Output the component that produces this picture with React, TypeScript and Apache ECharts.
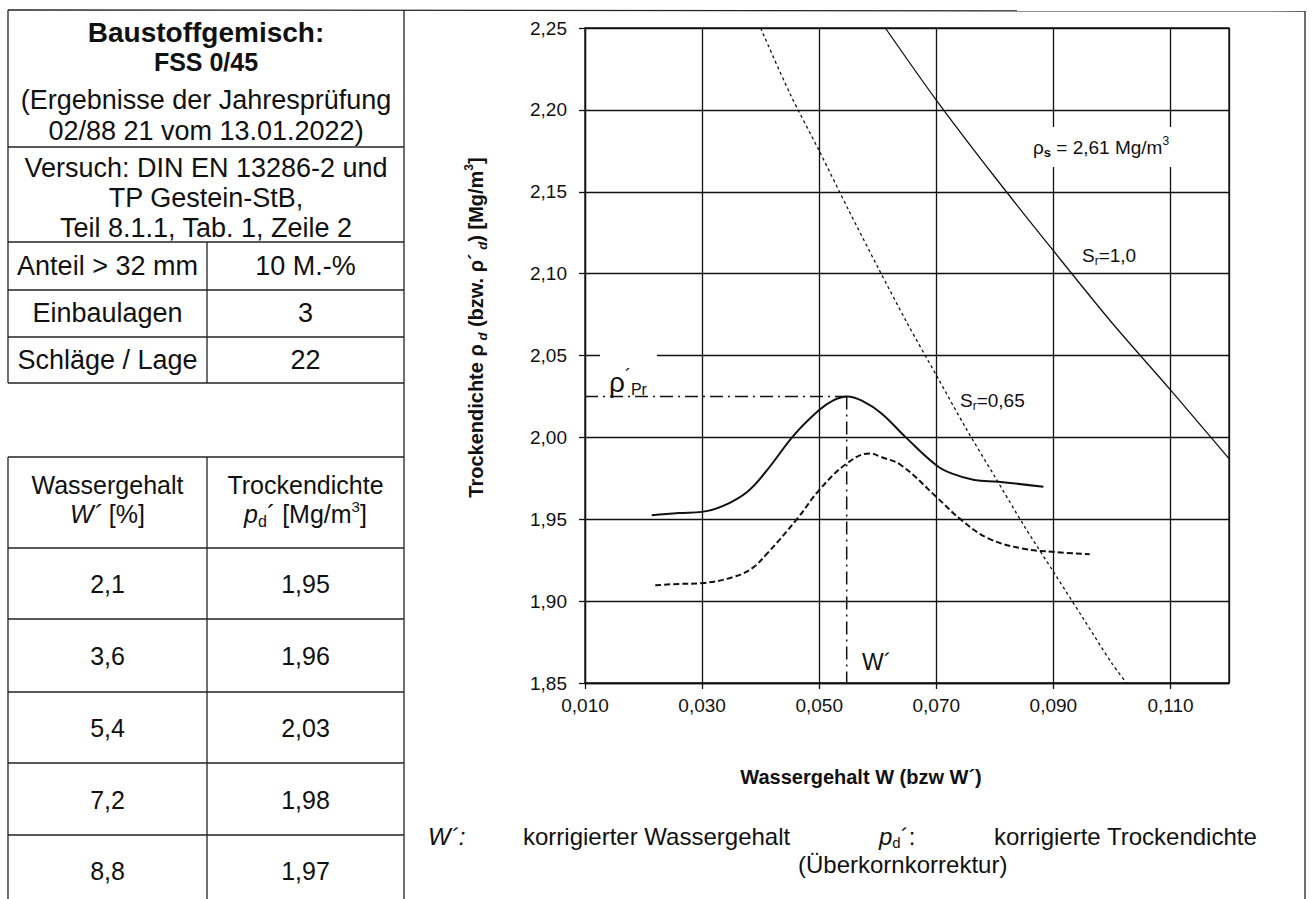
import React, { useEffect, useRef } from 'react';
import * as echarts from 'echarts';

// ---------- chart data ----------
const X_MIN = 0.01;
const X_MAX = 0.12;
const X_STEP = 0.02;
const Y_MIN = 1.85;
const Y_MAX = 2.25;
const Y_STEP = 0.05;

// Proctor curve (measured, solid)
const PROCTOR_CURVE: [number, number][] = [
  [0.0214, 1.9525], [0.026, 1.9538], [0.030, 1.9545], [0.0335, 1.958], [0.0377, 1.9667],
  [0.0411, 1.980], [0.0457, 2.0014], [0.050, 2.0167], [0.0525, 2.0228], [0.0548, 2.025],
  [0.0575, 2.022], [0.0606, 2.0148], [0.0648, 2.0], [0.070, 1.983], [0.0726, 1.978],
  [0.0765, 1.974], [0.0806, 1.9729], [0.0883, 1.9698],
];
// corrected curve (dashed)
const CORRECTED_CURVE: [number, number][] = [
  [0.022, 1.9097], [0.026, 1.9105], [0.030, 1.911], [0.0354, 1.9148], [0.0385, 1.920],
  [0.0411, 1.929], [0.0463, 1.9505], [0.050, 1.9678], [0.0547, 1.984], [0.0586, 1.9902],
  [0.0606, 1.988], [0.064, 1.983], [0.070, 1.9637], [0.0743, 1.9495], [0.0789, 1.9383],
  [0.0846, 1.9322], [0.0902, 1.930], [0.0962, 1.9287],
];
// saturation line Sr = 1,0
const SATURATION_100: [number, number][] = [
  [0.0613, 2.25], [0.070, 2.206], [0.080, 2.159], [0.090, 2.114], [0.100, 2.07],
  [0.110, 2.029], [0.120, 1.987],
];
// saturation line Sr = 0,65
const SATURATION_65: [number, number][] = [
  [0.0400, 2.25], [0.045, 2.21], [0.050, 2.175], [0.055, 2.139], [0.060, 2.104],
  [0.065, 2.07], [0.070, 2.038], [0.075, 2.006], [0.080, 1.976], [0.085, 1.946],
  [0.090, 1.918], [0.095, 1.89], [0.100, 1.862], [0.1025, 1.85],
];
const PROCTOR_W = 0.0547;
const PROCTOR_RHO = 2.025;

// ---------- table texts ----------
const HEADER_LINES = ['Baustoffgemisch:', 'FSS 0/45'];
const RESULT_LINES = ['(Ergebnisse der Jahresprüfung', '02/88 21 vom 13.01.2022)'];
const TEST_LINES = ['Versuch: DIN EN 13286-2 und', 'TP Gestein-StB,', 'Teil 8.1.1, Tab. 1, Zeile 2'];
const INFO_LABELS = ['Anteil > 32 mm', 'Einbaulagen', 'Schläge / Lage'];
const INFO_VALUES = ['10 M.-%', '3', '22'];
const WATER_CONTENT = ['2,1', '3,6', '5,4', '7,2', '8,8'];
const DRY_DENSITY = ['1,95', '1,96', '2,03', '1,98', '1,97'];

const FONT = 'Liberation Sans';
const INK = '#111';

function txt(x: number, y: number, text: string, size: number, o: any = {}) {
  const align = o.align || 'center';
  return {
    type: 'text',
    x,
    y,
    z: 50,
    silent: true,
    style: {
      text,
      fontSize: size,
      fontFamily: FONT,
      fontWeight: o.bold ? 'bold' : 'normal',
      fontStyle: o.italic ? 'italic' : 'normal',
      fill: INK,
      align,
      textAlign: align,
      verticalAlign: 'middle',
      textVerticalAlign: 'middle',
      rich: o.rich,
      backgroundColor: o.bg,
      padding: o.padding,
    },
  };
}

function ln(x1: number, y1: number, x2: number, y2: number) {
  return {
    type: 'line',
    z: 50,
    silent: true,
    shape: { x1, y1, x2, y2 },
    style: { stroke: '#222', lineWidth: 1.3 },
  };
}

function buildGraphics() {
  const g: any[] = [];
  // frame
  g.push(ln(8, 10, 1305, 11));
  g.push(ln(8, 10, 8, 383));
  g.push(ln(8, 457, 8, 899));
  g.push(ln(404, 10, 404, 899));
  g.push(ln(1305, 11, 1305, 899));
  // upper table
  [147, 242, 290, 337, 383].forEach((y) => g.push(ln(8, y, 404, y)));
  g.push(ln(207, 242, 207, 383));
  // lower table
  [457, 548, 619, 692, 763, 835].forEach((y) => g.push(ln(8, y, 404, y)));
  g.push(ln(207, 457, 207, 899));

  const cx = 206;
  const c1 = 107.5;
  const c2 = 305.5;
  g.push(txt(cx, 32, HEADER_LINES[0], 28, { bold: true }));
  g.push(txt(cx, 62, HEADER_LINES[1], 25, { bold: true }));
  RESULT_LINES.forEach((t, i) => g.push(txt(cx, 100 + i * 31, t, 27)));
  TEST_LINES.forEach((t, i) => g.push(txt(cx, 168 + i * 30, t, 27)));
  const infoY = [266, 313, 360];
  INFO_LABELS.forEach((t, i) => {
    g.push(txt(c1, infoY[i], t, 27));
    g.push(txt(c2, infoY[i], INFO_VALUES[i], 27));
  });
  // lower table header
  g.push(txt(c1, 485, 'Wassergehalt', 25));
  g.push(txt(c1, 514, '{i|W´} [%]', 25, { rich: { i: { fontSize: 25, fontStyle: 'italic', fontFamily: FONT, fill: INK } } }));
  g.push(txt(c2, 485, 'Trockendichte', 25));
  g.push(
    txt(c2, 514, '{p|p}{d|d}{t|´ [Mg/m}{u|3}{t|]}', 25, {
      rich: {
        p: { fontSize: 25, fontStyle: 'italic', fontFamily: FONT, fill: INK, lineHeight: 30 },
        d: { fontSize: 16, fontFamily: FONT, fill: INK, verticalAlign: 'bottom', lineHeight: 24 },
        t: { fontSize: 25, fontFamily: FONT, fill: INK, lineHeight: 30 },
        u: { fontSize: 15, fontFamily: FONT, fill: INK, verticalAlign: 'top', lineHeight: 24 },
      },
    })
  );
  const rowY = [584, 656, 728, 800, 871];
  WATER_CONTENT.forEach((t, i) => {
    g.push(txt(c1, rowY[i], t, 25));
    g.push(txt(c2, rowY[i], DRY_DENSITY[i], 25));
  });

  // chart annotations
  g.push({ type: 'rect', z: 40, silent: true, shape: { x: 600, y: 349, width: 57, height: 12 }, style: { fill: '#fff' } });
  g.push(
    txt(609, 382, '{r|ρ}{a|´}{s|Pr}', 26, {
      align: 'left',
      rich: {
        r: { fontSize: 28, fontFamily: FONT, fill: INK, lineHeight: 30 },
        a: { fontSize: 18, fontFamily: FONT, fill: INK, verticalAlign: 'top', lineHeight: 26 },
        s: { fontSize: 16, fontFamily: FONT, fill: INK, verticalAlign: 'bottom', lineHeight: 24 },
      },
    })
  );
  g.push(
    txt(1030, 147, '{r|ρ}{s|s}{t| = 2,61 Mg/m}{u|3}', 19, {
      align: 'left',
      bg: '#fff',
      padding: [8, 3, 8, 3],
      rich: {
        r: { fontSize: 19, fontFamily: FONT, fill: INK, lineHeight: 24 },
        s: { fontSize: 13, fontWeight: 'bold', fontFamily: FONT, fill: INK, verticalAlign: 'bottom', lineHeight: 17 },
        t: { fontSize: 19, fontFamily: FONT, fill: INK, lineHeight: 24 },
        u: { fontSize: 12, fontFamily: FONT, fill: INK, verticalAlign: 'top', lineHeight: 17 },
      },
    })
  );
  const srRich = {
    t: { fontSize: 19, fontFamily: FONT, fill: INK, lineHeight: 24 },
    s: { fontSize: 12, fontFamily: FONT, fill: INK, verticalAlign: 'bottom', lineHeight: 16 },
  };
  g.push(txt(1082, 255, '{t|S}{s|r}{t|=1,0}', 19, { align: 'left', rich: srRich }));
  g.push(txt(960, 400, '{t|S}{s|r}{t|=0,65}', 19, { align: 'left', rich: srRich }));
  g.push(txt(862, 662, 'W´', 23, { align: 'left' }));

  // legend below the chart
  g.push(txt(428, 836, 'W´:', 24, { align: 'left', italic: true }));
  g.push(txt(523, 836, 'korrigierter Wassergehalt', 24, { align: 'left' }));
  g.push(
    txt(879, 836, '{p|p}{d|d}{t|´:}', 24, {
      align: 'left',
      rich: {
        p: { fontSize: 24, fontStyle: 'italic', fontFamily: FONT, fill: INK, lineHeight: 28 },
        d: { fontSize: 15, fontFamily: FONT, fill: INK, verticalAlign: 'bottom', lineHeight: 22 },
        t: { fontSize: 24, fontFamily: FONT, fill: INK, lineHeight: 28 },
      },
    })
  );
  g.push(txt(994, 836, 'korrigierte Trockendichte', 24, { align: 'left' }));
  g.push(txt(798, 864, '(Überkornkorrektur)', 24, { align: 'left' }));
  return g;
}

export default function App() {
  const ref = useRef<HTMLDivElement>(null);

  useEffect(() => {
    if (!ref.current) return;
    const chart = echarts.init(ref.current, undefined, { renderer: 'svg' });
    const lineBase = { type: 'line', showSymbol: false, symbol: 'none', silent: true, z: 5 };
    chart.setOption({
      animation: false,
      backgroundColor: '#fff',
      textStyle: { fontFamily: FONT, color: INK },
      grid: {
        left: 585,
        top: 28,
        width: 644,
        height: 655,
        show: true,
        borderColor: INK,
        borderWidth: 1.3,
        backgroundColor: 'transparent',
      },
      xAxis: {
        type: 'value',
        min: X_MIN,
        max: X_MAX,
        interval: X_STEP,
        name: 'Wassergehalt W (bzw W´)',
        nameLocation: 'middle',
        nameGap: 84,
        nameTextStyle: { fontSize: 20, fontWeight: 'bold', color: INK, fontFamily: FONT, padding: [0, 92, 0, 0] },
        axisLine: { show: true, onZero: false, lineStyle: { color: INK, width: 1.3 } },
        axisTick: { show: true, length: 6, lineStyle: { color: INK, width: 1.3 } },
        axisLabel: {
          fontSize: 19,
          color: INK,
          margin: 13,
          showMaxLabel: false,
          formatter: (v: number) => v.toFixed(3).replace('.', ','),
        },
        splitLine: { show: true, lineStyle: { color: INK, width: 1.3 } },
      },
      yAxis: {
        type: 'value',
        min: Y_MIN,
        max: Y_MAX,
        interval: Y_STEP,
        name: '{t|Trockendichte ρ}{s| d}{t| (bzw. ρ´}{s| d}{t|) [Mg/m}{u|3}{t|]}',
        nameLocation: 'middle',
        nameGap: 96,
        nameTextStyle: {
          color: INK,
          padding: [0, 0, 0, 56],
          rich: {
            t: { fontSize: 20, fontWeight: 'bold', fontFamily: FONT, color: INK, lineHeight: 26 },
            s: { fontSize: 13, fontWeight: 'bold', fontStyle: 'italic', fontFamily: FONT, color: INK, verticalAlign: 'bottom', lineHeight: 18 },
            u: { fontSize: 12, fontWeight: 'bold', fontFamily: FONT, color: INK, verticalAlign: 'top', lineHeight: 18 },
          },
        },
        axisLine: { show: true, onZero: false, lineStyle: { color: INK, width: 1.3 } },
        axisTick: { show: true, length: 6, lineStyle: { color: INK, width: 1.3 } },
        axisLabel: {
          fontSize: 19,
          color: INK,
          margin: 18,
          formatter: (v: number) => v.toFixed(2).replace('.', ','),
        },
        splitLine: { show: true, lineStyle: { color: INK, width: 1.3 } },
      },
      series: [
        { ...lineBase, name: 'Proctorkurve', data: PROCTOR_CURVE, smooth: 0.4, lineStyle: { color: INK, width: 2 } },
        { ...lineBase, name: 'korrigiert', data: CORRECTED_CURVE, smooth: 0.4, lineStyle: { color: INK, width: 2, type: [6, 3] } },
        { ...lineBase, name: 'Sr=1,0', data: SATURATION_100, smooth: 0.3, lineStyle: { color: INK, width: 1.3 } },
        { ...lineBase, name: 'Sr=0,65', data: SATURATION_65, smooth: 0.3, lineStyle: { color: INK, width: 1.3, type: [3, 3] } },
        {
          ...lineBase,
          name: 'rhoPr',
          data: [[X_MIN, PROCTOR_RHO], [PROCTOR_W, PROCTOR_RHO]],
          lineStyle: { color: INK, width: 1.5, type: [13, 5, 2, 5] },
        },
        {
          ...lineBase,
          name: 'wPr',
          data: [[PROCTOR_W, PROCTOR_RHO], [PROCTOR_W, Y_MIN]],
          lineStyle: { color: INK, width: 1.5, type: [13, 5, 2, 5] },
        },
      ],
      graphic: { elements: buildGraphics() },
    });
    return () => chart.dispose();
  }, []);

  return (
    <div
      ref={ref}
      style={{ position: 'absolute', left: 0, top: 0, width: 1312, height: 899, background: '#fff' }}
    />
  );
}
